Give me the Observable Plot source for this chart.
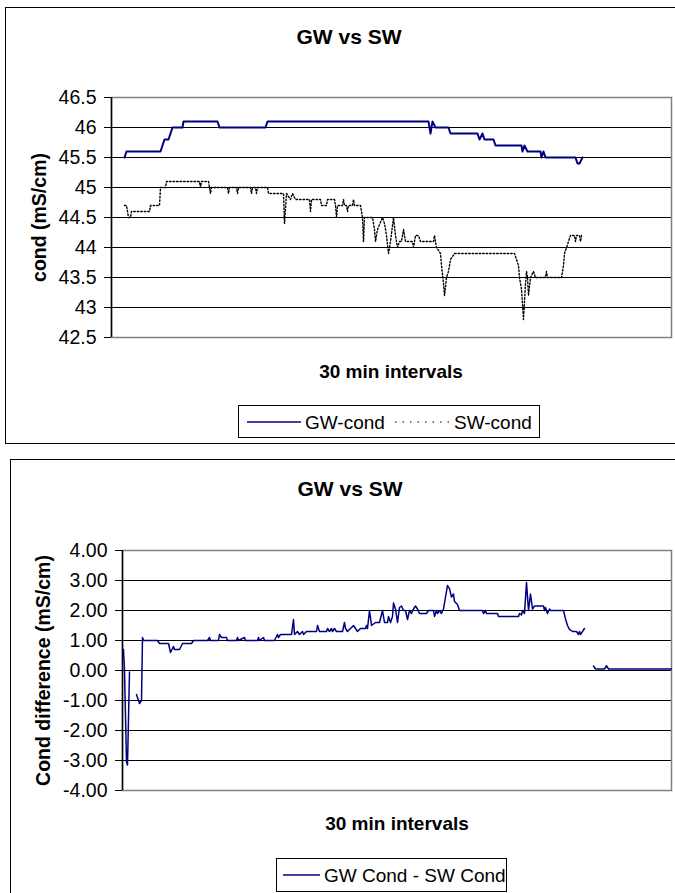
<!DOCTYPE html>
<html><head><meta charset="utf-8">
<script src="https://cdn.jsdelivr.net/npm/d3@7"></script>
<script src="https://cdn.jsdelivr.net/npm/@observablehq/plot@0.6"></script>
<style>
html,body{margin:0;padding:0;width:675px;height:893px;overflow:hidden;background:#fff;font-family:"Liberation Sans",Arial,sans-serif;color:#000}
.box{position:absolute;border:1.5px solid #000;box-sizing:border-box}
.title{position:absolute;font-weight:bold;font-size:21px;transform:translate(-50%,-50%);white-space:nowrap;line-height:1}
.xt{position:absolute;font-weight:bold;font-size:19px;transform:translate(-50%,-50%);white-space:nowrap;line-height:1}
.legend{position:absolute;border:1px solid #000;box-sizing:border-box;background:#fff}
.legend svg{position:absolute;left:0;top:0}
.lg{position:absolute;font-size:19px;white-space:nowrap;transform:translateY(-50%);line-height:1}
.chart{position:absolute;left:0}
</style></head><body>
<div class="box" style="left:5px;top:7px;width:720px;height:437px"></div>
<div class="title" style="left:349px;top:36px">GW vs SW</div>
<div id="c1" class="chart" style="top:80px"></div>
<div class="xt" style="left:391px;top:371px">30 min intervals</div>
<div class="legend" style="left:238px;top:405px;width:302px;height:33px">
  <svg width="302" height="33"><line x1="8" x2="62" y1="16" y2="16" stroke="#000080" stroke-width="1.5"/><line x1="156" x2="214" y1="16" y2="16" stroke="#000" stroke-width="1.2" stroke-dasharray="1.5,6"/></svg>
  <div class="lg" style="left:66px;top:16px">GW-cond</div>
  <div class="lg" style="left:215px;top:16px">SW-cond</div>
</div>

<div class="box" style="left:10px;top:459px;width:720px;height:500px"></div>
<div class="title" style="left:350px;top:488px">GW vs SW</div>
<div id="c2" class="chart" style="top:530px"></div>
<div class="xt" style="left:397px;top:823px">30 min intervals</div>
<div class="legend" style="left:276px;top:858px;width:231px;height:34px">
  <svg width="231" height="34"><line x1="6" x2="43" y1="16" y2="16" stroke="#000080" stroke-width="1.5"/></svg>
  <div class="lg" style="left:47px;top:16px">GW Cond - SW Cond</div>
</div>

<script>
// ---- data: [30-min interval index, value] ----
const gwCond = [[2,45.5],[4,45.6],[38,45.6],[40,45.7],[42,45.8],[46,45.8],[50,46.0],[60,46.0],[61,46.1],[95,46.1],[97,46.0],[143,46.0],[145,46.1],[306,46.1],[308,45.9],[310,46.1],[313,46.0],[326,46.0],[328,45.9],[355,45.9],[357,45.8],[360,45.9],[362,45.8],[371,45.8],[373,45.7],[399,45.7],[400,45.6],[402,45.7],[405,45.6],[418,45.6],[419,45.5],[421,45.6],[423,45.5],[453,45.5],[455,45.4],[457,45.4],[460,45.5]];

const swCond = [[2,44.7],[4,44.7],[5,44.6],[6,44.5],[8,44.5],[9,44.6],[27,44.6],[28,44.7],[37,44.7],[38,45.0],[43,45.0],[44,45.1],[77,45.1],[78,45.0],[79,45.1],[86,45.1],[87,45.0],[88,44.9],[89,45.0],[105,45.0],[106,44.9],[107,45.0],[114,45.0],[115,44.9],[116,45.0],[128,45.0],[129,44.9],[130,45.0],[133,45.0],[134,44.9],[135,45.0],[145,45.0],[146,44.9],[161,44.9],[162,44.4],[164,44.9],[168,44.8],[170,44.9],[173,44.8],[187,44.8],[188,44.6],[189,44.8],[198,44.8],[199,44.7],[204,44.7],[205,44.8],[212,44.8],[213,44.7],[214,44.5],[215,44.7],[220,44.7],[221,44.8],[222,44.7],[224,44.7],[225,44.6],[226,44.7],[230,44.7],[231,44.8],[232,44.7],[238,44.7],[240,44.5],[241,44.1],[242,44.5],[250,44.5],[252,44.3],[253,44.1],[255,44.3],[260,44.5],[262,44.4],[264,44.2],[266,43.9],[268,44.1],[271,44.5],[273,44.2],[275,44.0],[277,44.1],[279,44.1],[281,44.3],[283,44.1],[290,44.1],[291,44.0],[292,44.1],[293,44.2],[296,44.2],[298,44.1],[311,44.1],[312,44.2],[314,44.0],[318,43.9],[319,43.7],[321,43.4],[322,43.2],[324,43.5],[326,43.6],[328,43.8],[332,43.9],[392,43.9],[394,43.8],[396,43.7],[397,43.5],[399,43.3],[401,42.8],[403,43.4],[404,43.6],[405,43.5],[406,43.2],[408,43.5],[411,43.6],[413,43.5],[423,43.5],[424,43.6],[425,43.5],[439,43.5],[441,43.7],[442,43.9],[444,44.0],[446,44.1],[448,44.2],[452,44.2],[453,44.1],[454,44.2],[457,44.2],[458,44.1],[459,44.2]];

const condDiff = [[0,0.7],[1,0.7],[2,0.0],[4,-3.05],[5,-3.15],[7,-0.05],[10,null],[14,-0.8],[17,-1.1],[19,-1.0],[20,1.1],[21,1.0],[35,1.0],[37,0.9],[46,0.9],[48,0.6],[51,0.8],[52,0.7],[57,0.7],[60,0.9],[69,0.9],[71,1.0],[85,1.0],[87,1.1],[88,1.0],[96,1.0],[97,1.2],[99,1.1],[104,1.1],[105,1.0],[114,1.0],[115,1.1],[116,1.0],[122,1.1],[123,1.0],[135,1.0],[136,1.1],[137,1.0],[141,1.1],[142,1.0],[152,1.0],[155,1.2],[156,1.1],[158,1.2],[169,1.2],[171,1.7],[172,1.2],[175,1.3],[177,1.2],[180,1.3],[181,1.2],[184,1.3],[194,1.3],[195,1.5],[197,1.3],[204,1.3],[205,1.4],[207,1.3],[209,1.4],[210,1.3],[212,1.4],[214,1.3],[220,1.3],[222,1.6],[223,1.4],[225,1.3],[228,1.4],[231,1.5],[233,1.4],[235,1.3],[238,1.4],[243,1.4],[244,1.5],[245,1.4],[247,2.0],[249,1.5],[251,1.55],[253,1.6],[257,1.6],[260,2.0],[262,1.6],[265,1.6],[266,1.8],[268,1.6],[270,1.8],[271,2.25],[273,2.05],[275,1.6],[277,2.1],[279,2.15],[281,2.0],[283,2.0],[285,1.7],[287,2.0],[289,1.9],[291,2.05],[293,2.15],[295,2.05],[297,1.9],[304,1.9],[306,2.0],[311,2.0],[312,1.8],[314,2.0],[315,1.9],[317,2.0],[319,1.9],[321,2.05],[323,2.45],[325,2.83],[327,2.73],[329,2.45],[331,2.55],[332,2.3],[335,2.2],[337,2.0],[360,2.0],[361,1.9],[363,2.0],[364,1.9],[375,1.9],[376,1.8],[396,1.8],[397,1.9],[399,1.85],[400,2.0],[402,1.9],[404,2.93],[406,2.0],[408,2.55],[410,2.05],[412,2.15],[421,2.15],[422,2.0],[423,2.1],[425,1.9],[427,2.05],[428,2.0],[441,2.0],[443,1.72],[445,1.5],[447,1.37],[450,1.3],[454,1.3],[456,1.2],[457,1.3],[458,1.2],[460,1.3],[462,1.4],[466,null],[471,0.15],[473,0.05],[482,0.05],[484,0.16],[486,0.05],[549,0.05]];

const condTicks = [42.5, 43, 43.5, 44, 44.5, 45, 45.5, 46, 46.5];
const diffTicks = [-4, -3, -2, -1, 0, 1, 2, 3, 4];
const xDomainTop = [-11, 549];
const xDomainBottom = [0, 549];

const FONT = '"Liberation Sans", Arial, sans-serif';
const NAVY = "#000080";

const c1 = Plot.plot({
  width: 675, height: 270,
  marginLeft: 111, marginRight: 4, marginTop: 17, marginBottom: 13,
  x: {domain: xDomainTop, axis: null},
  y: {domain: [42.5, 46.5], axis: null},
  style: {fontFamily: FONT, fontSize: "19px", color: "#000", background: "transparent", overflow: "visible"},
  marks: [
    Plot.ruleY(condTicks.slice(1, -1), {stroke: "#000", strokeWidth: 1}),
    Plot.frame({stroke: "#808080", strokeWidth: 1.5}),
    Plot.ruleX([xDomainTop[0]], {stroke: "#000", strokeWidth: 1.5}),
    Plot.axisY({ticks: condTicks, tickFormat: d => String(d), tickSize: 7, tickPadding: 8, label: null, fontSize: 19.5, stroke: "#000"}),
    Plot.line(swCond, {x: d => d[0], y: d => d[1], stroke: "#000", strokeWidth: 1.4, strokeDasharray: "1.5,2"}),
    Plot.line(gwCond, {x: d => d[0], y: d => d[1], stroke: NAVY, strokeWidth: 2}),
    Plot.text(["cond (mS/cm)"], {frameAnchor: "left", textAnchor: "middle", dx: -72, rotate: -90, fontWeight: "bold", fontSize: 19.5, text: d => d, fill: "#000"})
  ]
});
document.getElementById("c1").appendChild(c1);

const c2 = Plot.plot({
  width: 675, height: 275,
  marginLeft: 122, marginRight: 4, marginTop: 20, marginBottom: 15,
  x: {domain: xDomainBottom, axis: null},
  y: {domain: [-4, 4], axis: null},
  style: {fontFamily: FONT, fontSize: "19px", color: "#000", background: "transparent", overflow: "visible"},
  marks: [
    Plot.ruleY(diffTicks.slice(1, -1), {stroke: "#000", strokeWidth: 1}),
    Plot.frame({stroke: "#808080", strokeWidth: 1.5}),
    Plot.ruleX([xDomainBottom[0]], {stroke: "#000", strokeWidth: 1.5}),
    Plot.axisY({ticks: diffTicks, tickFormat: d => d.toFixed(2), tickSize: 7, tickPadding: 8, label: null, fontSize: 19.5, stroke: "#000"}),
    Plot.line(condDiff, {x: d => d[0], y: d => d[1], stroke: NAVY, strokeWidth: 1.5}),
    Plot.text(["Cond difference (mS/cm)"], {frameAnchor: "left", textAnchor: "middle", dx: -79, rotate: -90, fontWeight: "bold", fontSize: 19.5, text: d => d, fill: "#000"})
  ]
});
document.getElementById("c2").appendChild(c2);
</script>
</body></html>
